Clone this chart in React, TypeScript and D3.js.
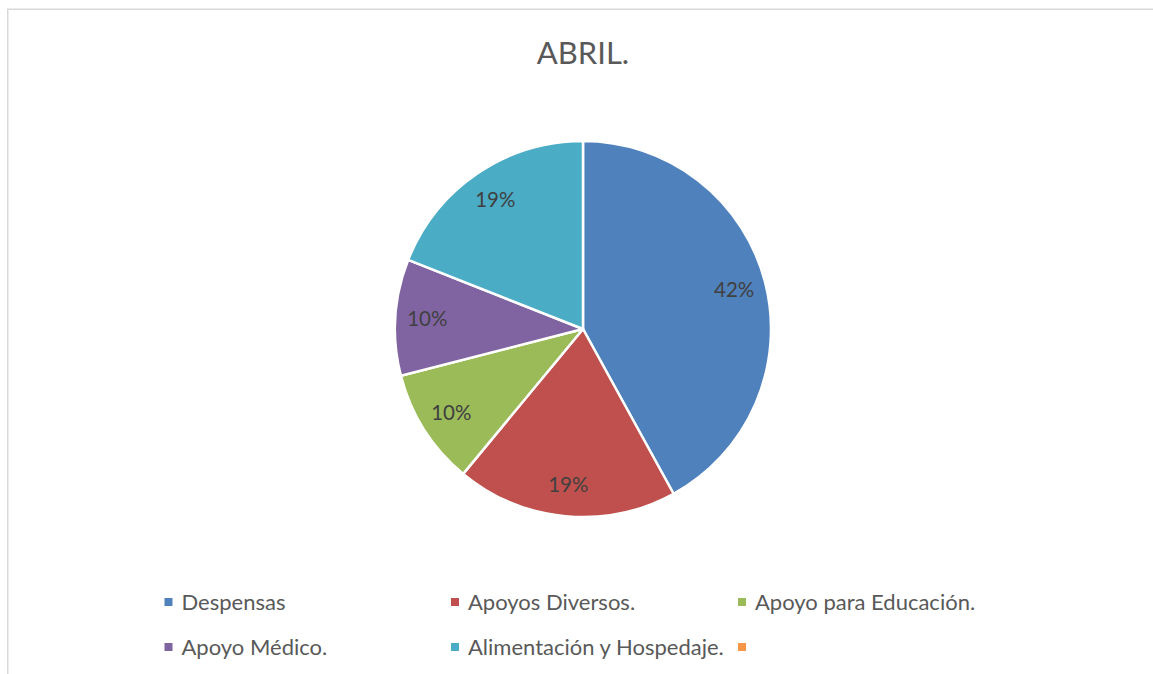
import React from "react";
import * as d3 from "d3";

const title = "ABRIL.";
const categories = [
  "Despensas",
  "Apoyos Diversos.",
  "Apoyo para Educación.",
  "Apoyo Médico.",
  "Alimentación y Hospedaje.",
  "",
];
const values = [42, 19, 10, 10, 19, 0];
const colors = ["#4F81BD", "#C0504D", "#9BBB59", "#8064A2", "#4BACC6", "#F79646"];

const W = 1153;
const H = 674;
const FONT = "Lato, 'Open Sans', sans-serif";

export default function App() {
  const cx = 583;
  const cy = 329;
  const r = 188;
  const total = d3.sum(values);
  const pie = d3
    .pie<number>()
    .sort(null)
    .value((d) => d)(values);
  const arc = d3.arc<d3.PieArcDatum<number>>().innerRadius(0).outerRadius(r);
  const labelArc = d3
    .arc<d3.PieArcDatum<number>>()
    .innerRadius(r * 0.83)
    .outerRadius(r * 0.83);

  const colX = d3.scaleOrdinal<number, number>().domain([0, 1, 2]).range([164.5, 451, 738]);
  const rowY = d3.scaleOrdinal<number, number>().domain([0, 1]).range([602, 647]);

  return (
    <svg
      width={W}
      height={H}
      style={{ position: "absolute", left: 0, top: 0, display: "block" }}
    >
      <rect x={0} y={0} width={W} height={H} fill="#ffffff" />
      <rect
        x={7.75}
        y={9.25}
        width={W + 50}
        height={H + 50}
        fill="#ffffff"
        stroke="#D9D9D9"
        strokeWidth={1.5}
      />
      <text
        x={cx}
        y={64}
        textAnchor="middle"
        fontFamily={FONT}
        fontSize={31}
        fill="#595959"
      >
        {title}
      </text>
      <g transform={`translate(${cx},${cy})`}>
        {pie.map((p, i) =>
          p.value > 0 ? (
            <path
              key={i}
              d={arc(p) || ""}
              fill={colors[i]}
              stroke="#ffffff"
              strokeWidth={2.5}
              strokeLinejoin="round"
            />
          ) : null
        )}
        {pie.map((p, i) => {
          if (p.value <= 0) return null;
          const [lx, ly] = labelArc.centroid(p);
          return (
            <text
              key={"l" + i}
              x={lx}
              y={ly}
              dy="0.35em"
              textAnchor="middle"
              fontFamily={FONT}
              fontSize={20.5}
              fill="#404040"
            >
              {Math.round((p.value / total) * 100) + "%"}
            </text>
          );
        })}
      </g>
      {categories.map((c, i) => {
        const col = i % 3;
        const row = Math.floor(i / 3);
        const x = colX(col);
        const y = rowY(row);
        return (
          <g key={"lg" + i}>
            <rect x={x} y={y - 4} width={8} height={8} fill={colors[i]} />
            <text
              x={x + 17}
              y={y}
              dy="0.35em"
              fontFamily={FONT}
              fontSize={22}
              fill="#595959"
            >
              {c}
            </text>
          </g>
        );
      })}
    </svg>
  );
}
